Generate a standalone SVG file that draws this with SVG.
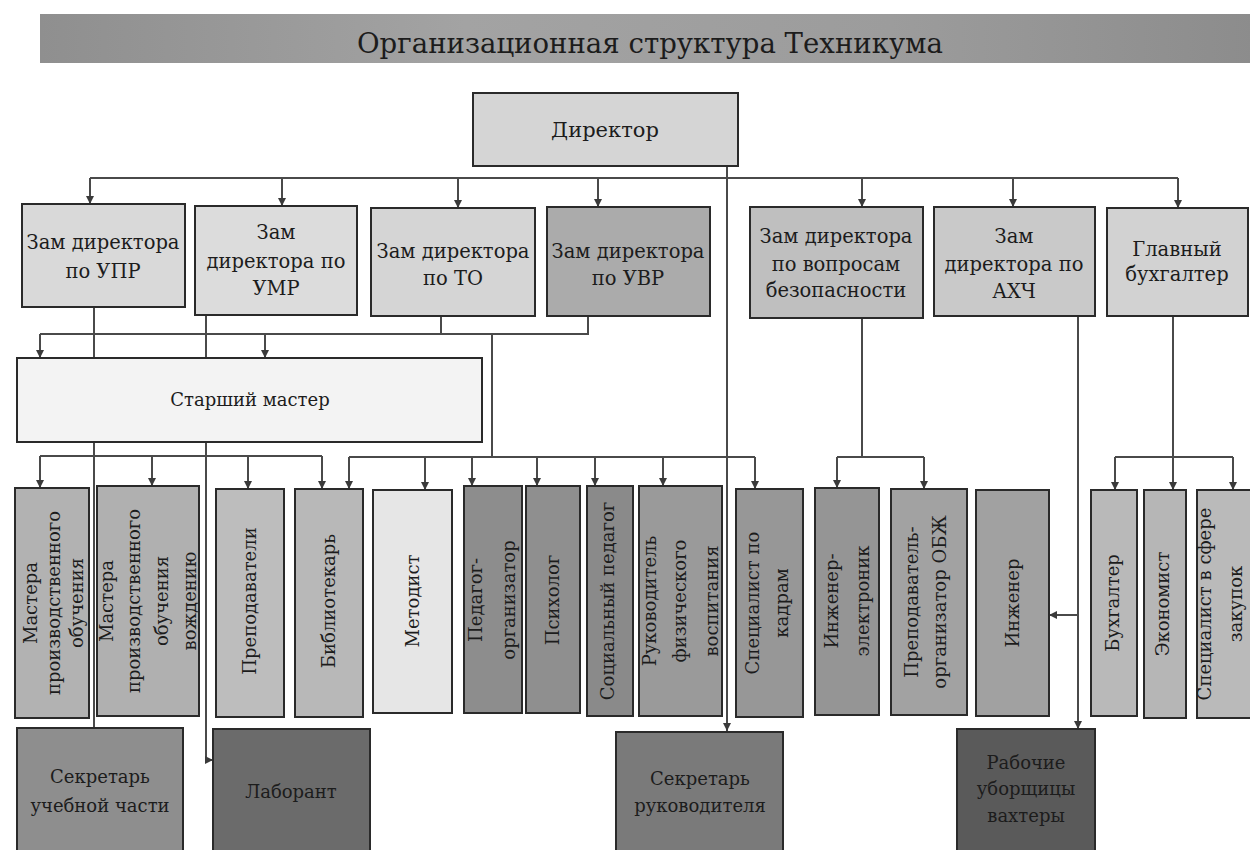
<svg xmlns="http://www.w3.org/2000/svg" width="1250" height="850" viewBox="0 0 1250 850">
<defs>
<linearGradient id="tg" x1="0" y1="0" x2="1" y2="0">
<stop offset="0" stop-color="#8f8f8f"/>
<stop offset="0.35" stop-color="#a3a3a3"/>
<stop offset="0.7" stop-color="#9c9c9c"/>
<stop offset="1" stop-color="#8c8c8c"/>
</linearGradient>
<marker id="ar" viewBox="0 0 10 10" refX="10" refY="5" markerWidth="8" markerHeight="8" markerUnits="userSpaceOnUse" orient="auto">
<path d="M0,0 L10,5 L0,10 z" fill="#3a3a3a"/>
</marker>
<style>
.b{stroke:#2a2a2a;stroke-width:2}
.c{fill:none;stroke:#4a4a4a;stroke-width:2}
.a{marker-end:url(#ar)}
.t{font-family:"DejaVu Serif","Liberation Serif",serif;font-size:18px;fill:#1c1c1c;text-anchor:middle}
.h{font-size:19.5px}
</style>
</defs>
<rect width="1250" height="850" fill="#ffffff"/>

<g id="title">
<rect x="40" y="14" width="1215" height="49" fill="url(#tg)"/>
<text class="t" x="650" y="53" style="font-size:27px" textLength="586" lengthAdjust="spacingAndGlyphs">Организационная структура Техникума</text>
</g>

<g id="connectors">
<path class="c" d="M90,178 H1178"/>
<path class="c a" d="M90,178 V204"/>
<path class="c a" d="M282,178 V206"/>
<path class="c a" d="M458,178 V208"/>
<path class="c a" d="M598,178 V207"/>
<path class="c a" d="M862,178 V207"/>
<path class="c a" d="M1013,178 V207"/>
<path class="c a" d="M1178,178 V208"/>
<path class="c a" d="M727,166 V731"/>
<path class="c" d="M94,307 V728"/>
<path class="c a" d="M206,315 V760 H213"/>
<path class="c" d="M40,334 H588 V316"/>
<path class="c" d="M441,316 V334"/>
<path class="c a" d="M40,334 V358"/>
<path class="c a" d="M265,334 V358"/>
<path class="c" d="M492,334 V457"/>
<path class="c" d="M40,456 H322"/>
<path class="c a" d="M40,456 V488"/>
<path class="c a" d="M152,456 V486"/>
<path class="c a" d="M248,456 V489"/>
<path class="c a" d="M322,456 V489"/>
<path class="c" d="M349,457 H755"/>
<path class="c a" d="M349,457 V489"/>
<path class="c a" d="M425,457 V490"/>
<path class="c a" d="M472,457 V486"/>
<path class="c a" d="M537,457 V486"/>
<path class="c a" d="M595,457 V486"/>
<path class="c a" d="M663,457 V486"/>
<path class="c a" d="M755,457 V489"/>
<path class="c" d="M862,318 V457"/>
<path class="c" d="M837,457 H924"/>
<path class="c a" d="M837,457 V488"/>
<path class="c a" d="M924,457 V489"/>
<path class="c a" d="M1078,316 V729"/>
<path class="c a" d="M1078,615 H1049"/>
<path class="c a" d="M1173,316 V490"/>
<path class="c" d="M1115,457 H1233"/>
<path class="c a" d="M1115,457 V490"/>
<path class="c a" d="M1233,457 V490"/>
</g>

<g id="director">
<rect class="b" x="473" y="93" width="265" height="73" fill="#d5d5d5"/>
<text class="t" x="605" y="137" style="font-size:21px">Директор</text>
</g>

<g id="zam-upr">
<rect class="b" x="22" y="204" width="163" height="103" fill="#d9d9d9"/>
<text class="t h" x="103" y="249">Зам директора</text>
<text class="t h" x="103" y="278">по УПР</text>
</g>
<g id="zam-umr">
<rect class="b" x="195" y="206" width="162" height="109" fill="#dcdcdc"/>
<text class="t h" x="276" y="239">Зам</text>
<text class="t h" x="276" y="268">директора по</text>
<text class="t h" x="276" y="295">УМР</text>
</g>
<g id="zam-to">
<rect class="b" x="371" y="208" width="164" height="108" fill="#d5d5d5"/>
<text class="t h" x="453" y="258">Зам директора</text>
<text class="t h" x="453" y="285">по ТО</text>
</g>
<g id="zam-uvr">
<rect class="b" x="547" y="207" width="163" height="109" fill="#ababab"/>
<text class="t h" x="628" y="258">Зам директора</text>
<text class="t h" x="628" y="285">по УВР</text>
</g>
<g id="zam-bez">
<rect class="b" x="750" y="207" width="173" height="111" fill="#bfbfbf"/>
<text class="t h" x="836" y="243">Зам директора</text>
<text class="t h" x="836" y="271">по вопросам</text>
<text class="t h" x="836" y="297">безопасности</text>
</g>
<g id="zam-ahch">
<rect class="b" x="934" y="207" width="161" height="109" fill="#c9c9c9"/>
<text class="t h" x="1014" y="243">Зам</text>
<text class="t h" x="1014" y="271">директора по</text>
<text class="t h" x="1014" y="298">АХЧ</text>
</g>
<g id="glavbuh">
<rect class="b" x="1107" y="208" width="141" height="108" fill="#d2d2d2"/>
<text class="t h" x="1177" y="256">Главный</text>
<text class="t h" x="1177" y="281">бухгалтер</text>
</g>

<g id="senior-master">
<rect class="b" x="17" y="358" width="465" height="84" fill="#f3f3f3"/>
<text class="t" x="250" y="406">Старший мастер</text>
</g>

<g id="masters-po">
<rect class="b" x="15" y="488" width="74" height="230" fill="#b2b2b2"/>
<text class="t" transform="translate(37,603) rotate(-90)">Мастера</text>
<text class="t" transform="translate(60,603) rotate(-90)">производственного</text>
<text class="t" transform="translate(83,603) rotate(-90)">обучения</text>
</g>
<g id="masters-driving">
<rect class="b" x="97" y="486" width="102" height="230" fill="#b0b0b0"/>
<text class="t" transform="translate(113,601) rotate(-90)">Мастера</text>
<text class="t" transform="translate(140,601) rotate(-90)">производственного</text>
<text class="t" transform="translate(168,601) rotate(-90)">обучения</text>
<text class="t" transform="translate(196,601) rotate(-90)">вождению</text>
</g>
<g id="teachers">
<rect class="b" x="216" y="489" width="68" height="228" fill="#bdbdbd"/>
<text class="t" transform="translate(256,601) rotate(-90)">Преподаватели</text>
</g>
<g id="librarian">
<rect class="b" x="295" y="489" width="68" height="228" fill="#b8b8b8"/>
<text class="t" transform="translate(335,601) rotate(-90)">Библиотекарь</text>
</g>
<g id="methodist">
<rect class="b" x="373" y="490" width="79" height="223" fill="#e6e6e6"/>
<text class="t" transform="translate(419,601) rotate(-90)">Методист</text>
</g>
<g id="ped-org">
<rect class="b" x="464" y="486" width="58" height="227" fill="#8d8d8d"/>
<text class="t" transform="translate(482,600) rotate(-90)">Педагог-</text>
<text class="t" transform="translate(515,600) rotate(-90)">организатор</text>
</g>
<g id="psychologist">
<rect class="b" x="526" y="486" width="54" height="227" fill="#8f8f8f"/>
<text class="t" transform="translate(559,600) rotate(-90)">Психолог</text>
</g>
<g id="social-ped">
<rect class="b" x="587" y="486" width="46" height="230" fill="#8a8a8a"/>
<text class="t" transform="translate(614,601) rotate(-90)">Социальный педагог</text>
</g>
<g id="phys-head">
<rect class="b" x="639" y="486" width="83" height="230" fill="#9a9a9a"/>
<text class="t" transform="translate(656,601) rotate(-90)">Руководитель</text>
<text class="t" transform="translate(686,601) rotate(-90)">физического</text>
<text class="t" transform="translate(718,601) rotate(-90)">воспитания</text>
</g>
<g id="hr">
<rect class="b" x="736" y="489" width="67" height="228" fill="#979797"/>
<text class="t" transform="translate(759,603) rotate(-90)">Специалист по</text>
<text class="t" transform="translate(788,603) rotate(-90)">кадрам</text>
</g>
<g id="eng-el">
<rect class="b" x="815" y="488" width="64" height="227" fill="#959595"/>
<text class="t" transform="translate(838,601) rotate(-90)">Инженер-</text>
<text class="t" transform="translate(869,601) rotate(-90)">электроник</text>
</g>
<g id="obzh">
<rect class="b" x="891" y="489" width="76" height="226" fill="#a2a2a2"/>
<text class="t" transform="translate(918,602) rotate(-90)">Преподаватель-</text>
<text class="t" transform="translate(946,602) rotate(-90)">организатор ОБЖ</text>
</g>
<g id="engineer">
<rect class="b" x="976" y="490" width="73" height="226" fill="#a1a1a1"/>
<text class="t" transform="translate(1019,603) rotate(-90)">Инженер</text>
</g>
<g id="accountant">
<rect class="b" x="1091" y="490" width="46" height="226" fill="#b9b9b9"/>
<text class="t" transform="translate(1119,603) rotate(-90)">Бухгалтер</text>
</g>
<g id="economist">
<rect class="b" x="1144" y="490" width="42" height="228" fill="#b6b6b6"/>
<text class="t" transform="translate(1169,604) rotate(-90)">Экономист</text>
</g>
<g id="procurement">
<rect class="b" x="1197" y="490" width="60" height="228" fill="#bababa"/>
<text class="t" transform="translate(1211,604) rotate(-90)">Специалист в сфере</text>
<text class="t" transform="translate(1242,604) rotate(-90)">закупок</text>
</g>

<g id="secretary-edu">
<rect class="b" x="17" y="728" width="166" height="135" fill="#8e8e8e"/>
<text class="t" x="100" y="783">Секретарь</text>
<text class="t" x="100" y="812">учебной части</text>
</g>
<g id="lab">
<rect class="b" x="213" y="729" width="157" height="134" fill="#6b6b6b"/>
<text class="t" x="291" y="798">Лаборант</text>
</g>
<g id="secretary-head">
<rect class="b" x="616" y="732" width="167" height="131" fill="#7a7a7a"/>
<text class="t" x="700" y="785">Секретарь</text>
<text class="t" x="700" y="812">руководителя</text>
</g>
<g id="workers">
<rect class="b" x="957" y="729" width="138" height="134" fill="#5a5a5a"/>
<text class="t" x="1026" y="769">Рабочие</text>
<text class="t" x="1026" y="795">уборщицы</text>
<text class="t" x="1026" y="822">вахтеры</text>
</g>
</svg>
